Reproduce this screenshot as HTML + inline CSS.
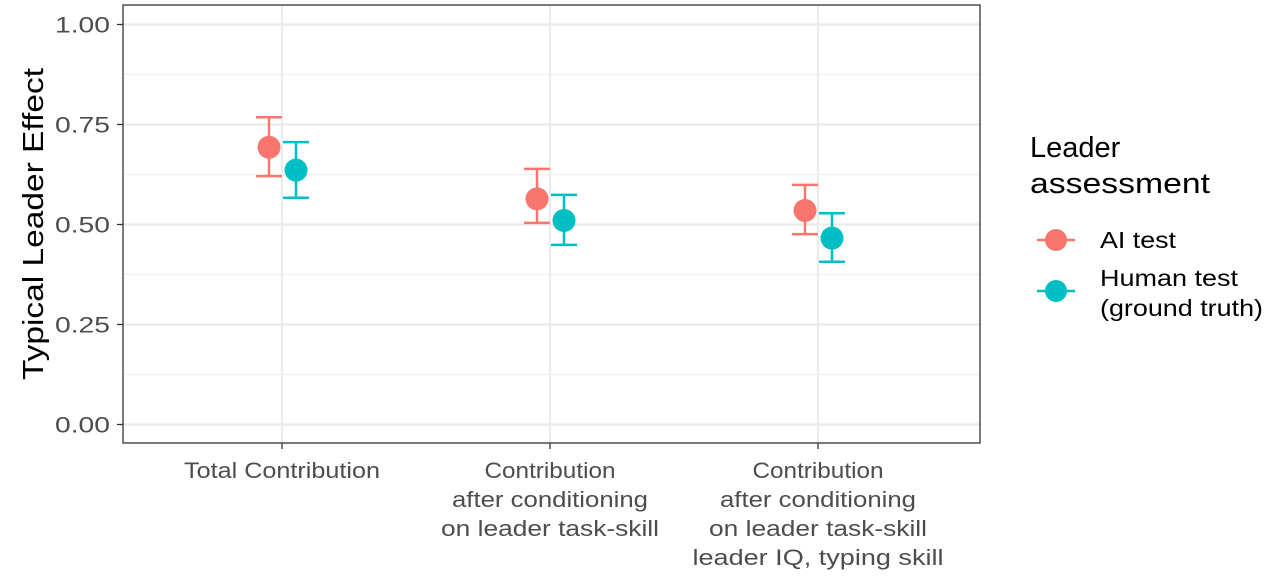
<!DOCTYPE html>
<html><head><meta charset="utf-8"><style>
body{margin:0;background:#fff;}
svg text{font-family:"Liberation Sans",Arial,sans-serif;}
</style></head><body>
<svg id="chart" width="1278" height="576" viewBox="0 0 1278 576" xmlns="http://www.w3.org/2000/svg">
<g id="grid"></g>
<g id="marks"></g>
<rect x="123" y="5" width="857" height="438" fill="none" stroke="#333" stroke-width="1.3"/>
<g id="axes"></g>
<text transform="translate(43,224) rotate(-90)" text-anchor="middle" font-size="29" textLength="312" lengthAdjust="spacingAndGlyphs" fill="#000">Typical Leader Effect</text>
<g>
<text x="1030" y="157" font-size="29" fill="#000">Leader</text>
<text x="1030" y="193" font-size="29" textLength="180" lengthAdjust="spacingAndGlyphs" fill="#000">assessment</text>
<g>
<line x1="1037" x2="1075" y1="240" y2="240" stroke="#F8766D" stroke-width="2.5"/>
<circle cx="1056" cy="240" r="11" fill="#F8766D"/>
<text x="1100" y="248" font-size="23" textLength="76" lengthAdjust="spacingAndGlyphs" fill="#000">AI test</text>
</g>
<g>
<line x1="1037" x2="1075" y1="291" y2="291" stroke="#00BFC4" stroke-width="2.5"/>
<circle cx="1056" cy="291" r="11" fill="#00BFC4"/>
<text x="1100" y="286" font-size="23" textLength="138" lengthAdjust="spacingAndGlyphs" fill="#000">Human test</text>
<text x="1100" y="316" font-size="23" textLength="163" lengthAdjust="spacingAndGlyphs" fill="#000">(ground truth)</text>
</g>
</g>
</svg>
<script>
const categories=[["Total Contribution"],["Contribution","after conditioning","on leader task-skill"],["Contribution","after conditioning","on leader task-skill","leader IQ, typing skill"]];
const aiEst=[0.693,0.564,0.535];
const aiLow=[0.621,0.504,0.476];
const aiHigh=[0.768,0.639,0.599];
const humanEst=[0.636,0.510,0.466];
const humanLow=[0.567,0.449,0.407];
const humanHigh=[0.706,0.574,0.528];
const yTicks=[0,0.25,0.5,0.75,1];
const yTickLabels=["0.00","0.25","0.50","0.75","1.00"];
const NS="http://www.w3.org/2000/svg";
const y=v=>424.5-400*v;
const x=i=>282+i*268;
function mk(tag,attrs,parent){const e=document.createElementNS(NS,tag);for(const k in attrs)e.setAttribute(k,attrs[k]);parent.appendChild(e);return e;}
const grid=document.getElementById('grid'),marks=document.getElementById('marks'),axes=document.getElementById('axes');
for(let i=0;i<yTicks.length-1;i++){const v=(yTicks[i]+yTicks[i+1])/2;const l=mk('line',{x1:123,x2:980,y1:y(v),y2:y(v),stroke:'#f0f0f0','stroke-width':1.2},grid);

}
yTicks.forEach((v,i)=>{const l=mk('line',{x1:123,x2:980,y1:y(v),y2:y(v),stroke:'#ebebeb','stroke-width':2.2},grid);


const t=mk('line',{x1:117,x2:123,y1:y(v),y2:y(v),stroke:'#333','stroke-width':1.3},axes);


const tx=mk('text',{x:110,y:y(v)+8,'text-anchor':'end','font-size':22,textLength:55,lengthAdjust:'spacingAndGlyphs',fill:'#4d4d4d'},axes);tx.textContent=yTickLabels[i];

});
categories.forEach((c,i)=>{const l=mk('line',{x1:x(i),x2:x(i),y1:5,y2:443,stroke:'#ebebeb','stroke-width':2.2},grid);


const t=mk('line',{x1:x(i),x2:x(i),y1:443,y2:449,stroke:'#333','stroke-width':1.3},axes);


c.forEach((s,j)=>{const tx=mk('text',{x:x(i),y:478+j*29,'text-anchor':'middle','font-size':22,fill:'#4d4d4d'},axes);tx.textContent=s;
tx.setAttribute('textLength',Math.round(s.length*10.9));
tx.setAttribute('lengthAdjust','spacingAndGlyphs');

});});
function series(est,lo,hi,off,col,name){est.forEach((v,i)=>{const cx=x(i)+off;const g=mk('g',{},marks);


mk('line',{x1:cx,x2:cx,y1:y(lo[i]),y2:y(hi[i]),stroke:col,'stroke-width':2.5},g);
mk('line',{x1:cx-13,x2:cx+13,y1:y(lo[i]),y2:y(lo[i]),stroke:col,'stroke-width':2.5},g);
mk('line',{x1:cx-13,x2:cx+13,y1:y(hi[i]),y2:y(hi[i]),stroke:col,'stroke-width':2.5},g);
mk('circle',{cx:cx,cy:y(v),r:11.5,fill:col},g);});}
series(aiEst,aiLow,aiHigh,-13,'#F8766D','ai-test');
series(humanEst,humanLow,humanHigh,14,'#00BFC4','human-test');
</script>
</body></html>
